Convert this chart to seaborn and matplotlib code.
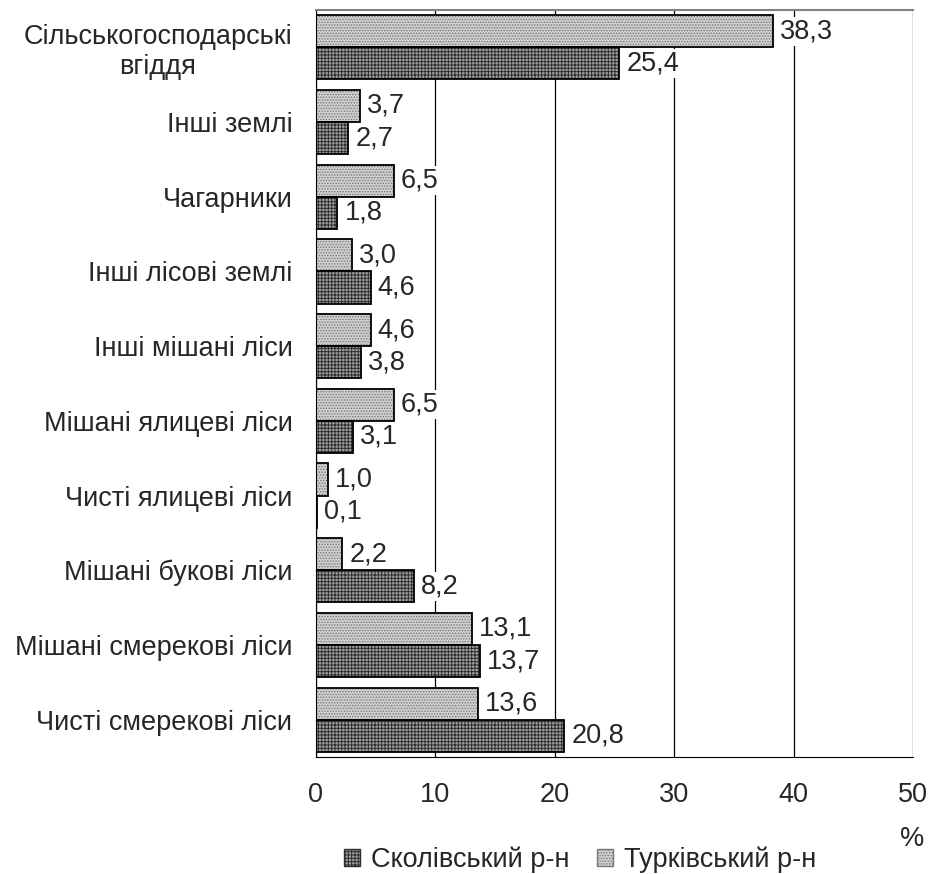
import numpy as np
import pandas as pd
import matplotlib
matplotlib.use('Agg')
import matplotlib.pyplot as plt
from matplotlib.patches import Patch, Rectangle
import seaborn as sns

categories = ['Сільськогосподарські\nвгіддя', 'Інші землі', 'Чагарники', 'Інші лісові землі',
              'Інші мішані ліси', 'Мішані ялицеві ліси', 'Чисті ялицеві ліси',
              'Мішані букові ліси', 'Мішані смерекові ліси', 'Чисті смерекові ліси']
turka = [38.3, 3.7, 6.5, 3.0, 4.6, 6.5, 1.0, 2.2, 13.1, 13.6]
skole = [25.4, 2.7, 1.8, 4.6, 3.8, 3.1, 0.1, 8.2, 13.7, 20.8]
series = ['Турківський р-н', 'Сколівський р-н']

df = pd.DataFrame({
    'cat': categories * 2,
    'val': turka + skole,
    'district': [series[0]] * len(categories) + [series[1]] * len(categories),
})

sns.set_style('white')
plt.rcParams['font.family'] = ['Liberation Sans', 'DejaVu Sans']
plt.rcParams['hatch.linewidth'] = 0.7

FS = 19.5

fig = plt.figure(figsize=(9.29, 8.74), dpi=100)
ax = fig.add_axes([316 / 929, 1 - 757 / 874, (913 - 316) / 929, (757 - 10) / 874])

colors = {series[0]: '#d0d0d0', series[1]: '#a0a0a0'}
hatch_col = {series[0]: '#777777', series[1]: '#2e2e2e'}
hatches = {series[0]: '......', series[1]: '+++++'}

sns.barplot(data=df, y='cat', x='val', hue='district', hue_order=series, order=categories,
            palette=colors, orient='h', width=0.86, dodge=True, ax=ax, legend=False,
            edgecolor='black', linewidth=1.2)

for cont, s in zip(ax.containers, series):
    for bar in cont:
        # штрихування сірим, а чорний контур окремим прямокутником
        bar.set_hatch(hatches[s])
        bar.set_edgecolor(hatch_col[s])
        bar.set_linewidth(0)
        ax.add_patch(Rectangle(bar.get_xy(), bar.get_width(), bar.get_height(),
                               fill=False, edgecolor='black', linewidth=1.3, zorder=bar.get_zorder()))
    ax.bar_label(cont, labels=[f'{v:.1f}'.replace('.', ',') for v in cont.datavalues],
                 padding=5, fontsize=FS,
                 bbox=dict(facecolor='white', edgecolor='none', pad=1))

ax.set_xlim(0, 50)
ax.set_ylim(len(categories) - 0.5, -0.5)
ax.set_xticks(range(0, 51, 10))
ax.grid(axis='x', color='black', linewidth=0.9)
ax.set_axisbelow(True)
ax.set_xlabel('')
ax.set_ylabel('')

ax.spines['right'].set_visible(False)
ax.spines['top'].set_color('#808080')
ax.spines['top'].set_linewidth(1.5)
ax.spines['left'].set_color('black')
ax.spines['bottom'].set_color('black')

ax.tick_params(axis='y', which='major', length=0, labelsize=FS, pad=17)
ax.set_yticks(np.arange(-0.5, len(categories), 1), minor=True)
ax.tick_params(axis='y', which='minor', length=6, color='black', direction='out')
ax.tick_params(axis='x', which='major', length=6, color='black', direction='out',
               labelsize=FS, pad=12)
for lbl in ax.get_yticklabels():
    lbl.set_horizontalalignment('right')
    lbl.set_multialignment('center')

fig.text(912 / 929, 1 - 839 / 874, '%', fontsize=FS, ha='center', va='center')

handles = [Patch(facecolor=colors[series[1]], edgecolor=hatch_col[series[1]], hatch=hatches[series[1]]),
           Patch(facecolor=colors[series[0]], edgecolor=hatch_col[series[0]], hatch=hatches[series[0]])]
fig.legend(handles, [series[1], series[0]], loc='center', bbox_to_anchor=(580 / 929, 1 - 860 / 874),
           ncol=2, frameon=False, fontsize=FS, handlelength=0.6, handleheight=0.6,
           handletextpad=0.4, columnspacing=1.0)

fig.savefig('out.png', dpi=100)
